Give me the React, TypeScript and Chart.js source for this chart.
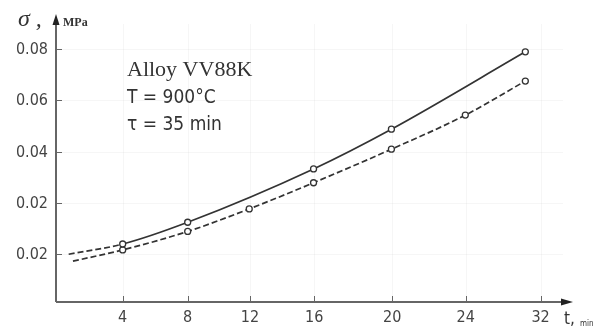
import React, { useEffect, useRef } from "react";
import { Chart, registerables } from "chart.js";

Chart.register(...registerables);

// Tick positions (data units) and their printed labels
const xTickValues = [4, 7.79, 11.42, 15.17, 19.72, 24, 28.37];
const xTickLabels = ["4", "8", "12", "16", "20", "24", "32"];
const yTickValues = [0, 0.02, 0.04, 0.06, 0.08];
const yTickLabels = ["0.02", "0.02", "0.04", "0.06", "0.08"];

// Upper (solid) curve; first point is the start of the dashed extrapolation
const upperX = [0.85, 4, 7.79, 15.13, 19.67, 27.48];
const upperY = [-0.0001, 0.0039, 0.0124, 0.0332, 0.0487, 0.0789];
// Lower (dashed) curve
const lowerX = [1.1, 4, 7.79, 11.38, 15.13, 19.67, 23.98, 27.48];
const lowerY = [-0.0028, 0.0016, 0.0088, 0.0176, 0.0278, 0.0409, 0.0542, 0.0675];

const annotationLines = ["Alloy VV88K", "T = 900°C", "τ = 35 min"];
const yAxisTitle = "σ ,";
const yAxisUnit = "MPa";
const xAxisTitle = "t,";
const xAxisUnit = "min";

const AXIS = "#666";
const INK = "#333";
const SANS = '"DejaVu Sans Condensed", "DejaVu Sans", sans-serif';
const SERIF = '"Liberation Serif", "DejaVu Serif", serif';

const decorPlugin = {
  id: "decor",
  beforeDatasetsDraw(chart: any) {
    const { ctx, chartArea: a, scales } = chart;
    const xs = scales.x;
    const ys = scales.y;
    ctx.save();
    ctx.strokeStyle = "rgba(0,0,0,0.035)";
    ctx.lineWidth = 1;
    xTickValues.forEach((v) => {
      const px = Math.round(xs.getPixelForValue(v)) + 0.5;
      ctx.beginPath();
      ctx.moveTo(px, a.top + 10);
      ctx.lineTo(px, a.bottom);
      ctx.stroke();
    });
    yTickValues.forEach((v) => {
      const py = Math.round(ys.getPixelForValue(v)) + 0.5;
      ctx.beginPath();
      ctx.moveTo(a.left, py);
      ctx.lineTo(a.right - 10, py);
      ctx.stroke();
    });
    ctx.restore();
  },
  afterDraw(chart: any) {
    const { ctx, chartArea: a, scales } = chart;
    const xs = scales.x;
    const ys = scales.y;
    ctx.save();
    // axes
    ctx.strokeStyle = AXIS;
    ctx.lineWidth = 2;
    ctx.beginPath();
    ctx.moveTo(a.left, a.bottom);
    ctx.lineTo(a.left, a.top + 8);
    ctx.moveTo(a.left, a.bottom);
    ctx.lineTo(a.right - 8, a.bottom);
    ctx.stroke();
    // arrows
    ctx.fillStyle = "#222";
    ctx.beginPath();
    ctx.moveTo(a.left, a.top);
    ctx.lineTo(a.left - 3.5, a.top + 11);
    ctx.lineTo(a.left + 3.5, a.top + 11);
    ctx.closePath();
    ctx.fill();
    ctx.beginPath();
    ctx.moveTo(a.right, a.bottom);
    ctx.lineTo(a.right - 12, a.bottom - 3.5);
    ctx.lineTo(a.right - 12, a.bottom + 3.5);
    ctx.closePath();
    ctx.fill();
    // ticks
    ctx.strokeStyle = AXIS;
    ctx.lineWidth = 1;
    xTickValues.forEach((v) => {
      const px = Math.round(xs.getPixelForValue(v)) + 0.5;
      ctx.beginPath();
      ctx.moveTo(px, a.bottom - 6);
      ctx.lineTo(px, a.bottom + 1);
      ctx.stroke();
    });
    yTickValues.forEach((v) => {
      const py = Math.round(ys.getPixelForValue(v)) + 0.5;
      ctx.beginPath();
      ctx.moveTo(a.left, py);
      ctx.lineTo(a.left + 6, py);
      ctx.stroke();
    });
    // tick labels
    ctx.fillStyle = "#444";
    ctx.font = `16px ${SANS}`;
    ctx.textAlign = "center";
    ctx.textBaseline = "middle";
    xTickValues.forEach((v, i) => {
      ctx.fillText(xTickLabels[i], xs.getPixelForValue(v), a.bottom + 16);
    });
    ctx.textAlign = "right";
    yTickValues.forEach((v, i) => {
      ctx.fillText(yTickLabels[i], a.left - 8, ys.getPixelForValue(v) + 1);
    });
    // axis titles
    ctx.textAlign = "left";
    ctx.textBaseline = "alphabetic";
    ctx.fillStyle = INK;
    ctx.font = `italic 24px ${SERIF}`;
    ctx.fillText(yAxisTitle, 18, 26);
    ctx.font = `bold 12px ${SERIF}`;
    ctx.fillText(yAxisUnit, a.left + 7, 26);
    ctx.font = `17px ${SANS}`;
    ctx.fillText(xAxisTitle, a.right - 9, a.bottom + 22);
    ctx.font = `8px ${SANS}`;
    ctx.fillText(xAxisUnit, a.right + 7, a.bottom + 24);
    // annotation block
    ctx.fillStyle = INK;
    ctx.font = `22px ${SERIF}`;
    ctx.fillText(annotationLines[0], 127, 76);
    ctx.font = `19px ${SANS}`;
    ctx.fillText(annotationLines[1], 127, 103);
    ctx.fillText(annotationLines[2], 127, 130);
    ctx.restore();
  },
};

export default function App() {
  const ref = useRef<HTMLCanvasElement | null>(null);
  useEffect(() => {
    if (!ref.current) return;
    const upper = upperX.map((x, i) => ({ x, y: upperY[i] }));
    const lower = lowerX.map((x, i) => ({ x, y: lowerY[i] }));
    const chart = new Chart(ref.current, {
      type: "line",
      data: {
        datasets: [
          {
            data: upper,
            borderColor: INK,
            borderWidth: 1.7,
            tension: 0.4,
            cubicInterpolationMode: "monotone",
            pointRadius: upper.map((_, i) => (i === 0 ? 0 : 3)),
            pointBackgroundColor: "#fff",
            pointBorderColor: INK,
            pointBorderWidth: 1.3,
            segment: {
              borderDash: (c: any) => (c.p0DataIndex === 0 ? [6, 3] : undefined),
            },
          } as any,
          {
            data: lower,
            borderColor: INK,
            borderWidth: 1.7,
            borderDash: [6, 3],
            tension: 0.4,
            cubicInterpolationMode: "monotone",
            pointRadius: lower.map((_, i) => (i === 0 ? 0 : 3)),
            pointBackgroundColor: "#fff",
            pointBorderColor: INK,
            pointBorderWidth: 1.3,
          } as any,
        ],
      },
      options: {
        responsive: false,
        animation: false,
        devicePixelRatio: 1,
        layout: { padding: { left: 56, right: 22, top: 14, bottom: 25 } },
        plugins: { legend: { display: false }, tooltip: { enabled: false } },
        scales: {
          x: { type: "linear", display: false, min: 0.111, max: 30.26 },
          y: { type: "linear", display: false, min: -0.01873, max: 0.09366 },
        },
      },
      plugins: [decorPlugin],
    });
    return () => chart.destroy();
  }, []);
  return (
    <div style={{ position: "fixed", left: 0, top: 0, width: 595, height: 327, background: "#fff" }}>
      <canvas ref={ref} width={595} height={327} style={{ display: "block" }} />
    </div>
  );
}
